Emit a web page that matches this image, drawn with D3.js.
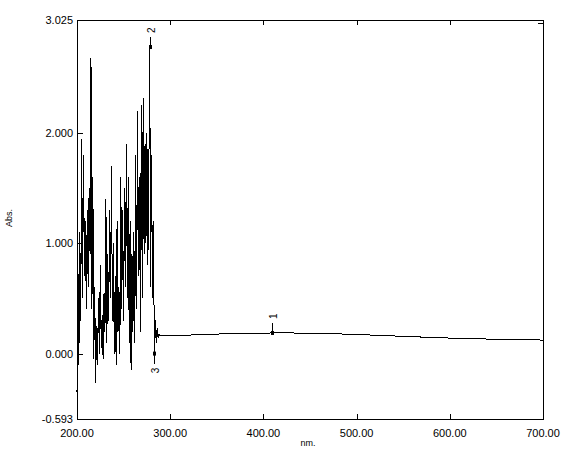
<!DOCTYPE html>
<html>
<head>
<meta charset="utf-8">
<script src="https://cdn.jsdelivr.net/npm/d3@7"></script>
<style>
  body { margin: 0; background: #fff; }
  svg { display: block; }
  text { font-family: Arial, "Liberation Sans", sans-serif; fill: #000; }
</style>
</head>
<body>
<svg id="chart"></svg>
<script>
// noisy part, 1 nm steps from 200 nm
var noiseStart = 200;
var noiseAbs = [
  -0.35, 0.8, -0.1, 1.1, 0.3, 1.95, 0.5, 1.8, 0.7, 1.2,
  0.4, 1.3, 0.6, 1.5, 0.9, 2.68, 0.4, 1.6, -0.05, 0.6,
  -0.27, 0.25, -0.1, 0.5, 0.0, 0.8, 0.05, 0.35, -0.05, 0.55,
  0.2, 1.4, 0.1, 0.9, 0.3, 1.3, 0.5, 1.7, 0.3, 1.0,
  0.0, 0.7, -0.1, 1.2, 0.2, 0.6, 0.0, 1.6, 0.4, 1.3,
  0.3, 1.5, 0.6, 1.9, 0.5, 1.6, 0.1, 1.2, -0.15, 0.9,
  0.2, 1.1, 0.1, 1.8, 0.4, 2.2, 0.7, 1.6, 0.2, 2.25,
  0.5, 2.32, 0.9, 1.9, 1.0, 2.0, 0.8, 1.5, 2.78, 0.6,
  1.8, 0.5, 1.2, 0.0, 0.3, 0.1, 0.23, 0.14, 0.18, 0.16
];
// smooth part, 10 nm steps from 290 nm
var smoothStart = 290;
var smoothAbs = [
  0.155, 0.16, 0.165, 0.168, 0.171, 0.174, 0.177, 0.180, 0.182, 0.184,
  0.185, 0.186, 0.187, 0.187, 0.187, 0.186, 0.185, 0.183, 0.181, 0.179,
  0.176, 0.173, 0.170, 0.167, 0.164, 0.160, 0.157, 0.153, 0.150, 0.147,
  0.144, 0.141, 0.139, 0.136, 0.134, 0.132, 0.130, 0.128, 0.127, 0.125,
  0.124, 0.123
];
var peakLabels = ["1", "2", "3"];
var peakNm = [409, 278, 283];
var peakAbs = [0.187, 2.78, 0.0];
var peakUp = [true, true, false];

var xTicks = [200, 300, 400, 500, 600, 700];
var yTicks = [-0.593, 0, 1, 2, 3.025];

var W = 566, H = 452;
var svg = d3.select("#chart").attr("width", W).attr("height", H);

var x = d3.scaleLinear().domain([200, 700]).range([77, 543]);
var y = d3.scaleLinear().domain([-0.593, 3.025]).range([419, 20]);

var pts = [];
noiseAbs.forEach(function (v, i) { pts.push([noiseStart + i, v]); });
smoothAbs.forEach(function (v, i) { if (i > 0) pts.push([smoothStart + i * 10, v]); });

// frame
svg.append("rect")
  .attr("x", x(200) + 0.5).attr("y", y(3.025) + 0.5)
  .attr("width", x(700) - x(200)).attr("height", y(-0.593) - y(3.025))
  .attr("fill", "none").attr("stroke", "#000").attr("shape-rendering", "crispEdges");

// bottom / top ticks
var inner = xTicks.filter(function (d) { return d > 200 && d < 700; });
svg.selectAll(".xt").data(inner).enter().append("line")
  .attr("x1", function (d) { return Math.round(x(d)) + 0.5; })
  .attr("x2", function (d) { return Math.round(x(d)) + 0.5; })
  .attr("y1", y(-0.593)).attr("y2", y(-0.593) - 5)
  .attr("stroke", "#000").attr("shape-rendering", "crispEdges");
svg.selectAll(".xtt").data(inner).enter().append("line")
  .attr("x1", function (d) { return Math.round(x(d)) + 0.5; })
  .attr("x2", function (d) { return Math.round(x(d)) + 0.5; })
  .attr("y1", y(3.025)).attr("y2", y(3.025) + 5)
  .attr("stroke", "#000").attr("shape-rendering", "crispEdges");

svg.selectAll(".xl").data(xTicks).enter().append("text")
  .attr("x", function (d) { return x(d); })
  .attr("y", 437)
  .attr("text-anchor", "middle").attr("font-size", 11)
  .text(function (d) { return d.toFixed(2); });

// left ticks
svg.selectAll(".yt").data(yTicks.filter(function (d) { return d > -0.593; })).enter().append("line")
  .attr("x1", x(200)).attr("x2", x(200) + 6)
  .attr("y1", function (d) { return Math.round(y(d)) + 0.5; })
  .attr("y2", function (d) { return Math.round(y(d)) + 0.5; })
  .attr("stroke", "#000").attr("shape-rendering", "crispEdges");
svg.append("line")
  .attr("x1", x(700) - 5).attr("x2", x(700))
  .attr("y1", Math.round(y(3.025)) + 3.5).attr("y2", Math.round(y(3.025)) + 3.5)
  .attr("stroke", "#000").attr("shape-rendering", "crispEdges");

svg.selectAll(".yl").data(yTicks).enter().append("text")
  .attr("x", 73)
  .attr("y", function (d) { return y(d) + 4; })
  .attr("text-anchor", "end").attr("font-size", 11)
  .text(function (d) { return d.toFixed(3); });

// axis titles
svg.append("text").attr("x", 308).attr("y", 446).attr("text-anchor", "middle")
  .attr("font-size", 9).text("nm.");
svg.append("text").attr("transform", "translate(12,218) rotate(-90)")
  .attr("text-anchor", "middle").attr("font-size", 9).text("Abs.");

// spectrum
var line = d3.line().x(function (d) { return x(d[0]); }).y(function (d) { return y(d[1]); });
svg.append("path").datum(pts)
  .attr("d", line).attr("fill", "none").attr("stroke", "#000").attr("stroke-width", 1)
  .attr("shape-rendering", "crispEdges");

// peak marks
peakLabels.forEach(function (lab, i) {
  var px = Math.round(x(peakNm[i])) + 0.5, py = y(peakAbs[i]);
  var s = peakUp[i] ? -1 : 1;
  svg.append("rect").attr("x", px - 1.5).attr("y", py - 2).attr("width", 3).attr("height", 4)
    .attr("fill", "#000");
  svg.append("line").attr("x1", px).attr("x2", px)
    .attr("y1", py).attr("y2", py + s * 10)
    .attr("stroke", "#000").attr("shape-rendering", "crispEdges");
  svg.append("text")
    .attr("transform", "translate(" + (px + 4) + "," + (py + s * 14) + ") rotate(-90)")
    .attr("text-anchor", peakUp[i] ? "start" : "end").attr("font-size", 10)
    .text(lab);
});
</script>
</body>
</html>
